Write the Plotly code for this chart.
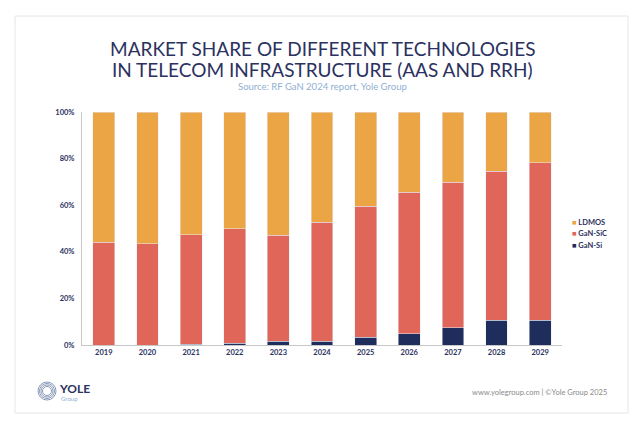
import plotly.graph_objects as go

years = ["2019", "2020", "2021", "2022", "2023", "2024", "2025", "2026", "2027", "2028", "2029"]
gan_si = [0.0, 0.0, 0.3, 0.7, 1.7, 1.7, 3.3, 4.9, 7.4, 10.6, 10.6]
gan_sic = [44.1, 43.4, 47.1, 49.2, 45.5, 50.9, 56.2, 60.7, 62.4, 64.0, 67.7]
ldmos = [55.9, 56.6, 52.6, 50.1, 52.8, 47.4, 40.5, 34.4, 30.2, 25.4, 21.7]
y_ticks = [0, 20, 40, 60, 80, 100]
y_tick_labels = ["0%", "20%", "40%", "60%", "80%", "100%"]

C_SI = "#1f2d5c"
C_SIC = "#e0665a"
C_LD = "#eca545"
NAVY = "#2b3160"
FONT = "Lato"

OFF = 8  # page body margin
W, H = 640 - OFF, 424 - OFF
L, T = 82 - OFF, 112 - OFF
pw, ph = 480, 233
R, B = W - L - pw, H - T - ph


def px(x):
    return (x - OFF - L) / pw


def py(y):
    return (H - B - (y - OFF)) / ph


fig = go.Figure()
fig.add_trace(go.Bar(x=years, y=gan_si, name="GaN-Si", marker_color=C_SI, width=0.5, showlegend=False))
fig.add_trace(go.Bar(x=years, y=gan_sic, name="GaN-SiC", marker_color=C_SIC, width=0.5, showlegend=False))
fig.add_trace(go.Bar(x=years, y=ldmos, name="LDMOS", marker_color=C_LD, width=0.5, showlegend=False))

shapes = [
    dict(type="rect", xref="paper", yref="paper", x0=px(15), x1=px(628), y0=py(413), y1=py(16),
         line=dict(color="#e6e6e6", width=1), fillcolor="rgba(0,0,0,0)", layer="below"),
]
for r in [9, 7.5, 6, 4.5]:
    shapes.append(dict(type="circle", xref="paper", yref="paper",
                       x0=px(47 - r), x1=px(47 + r), y0=py(391 + r), y1=py(391 - r),
                       line=dict(color="#8a9bb8", width=1)))

annotations = [
    dict(text="MARKET SHARE OF DIFFERENT TECHNOLOGIES", x=px(322), y=py(48), xref="paper", yref="paper",
         showarrow=False, font=dict(family=FONT, size=19, color=NAVY), xanchor="center", yanchor="middle"),
    dict(text="IN TELECOM INFRASTRUCTURE (AAS AND RRH)", x=px(322), y=py(69), xref="paper", yref="paper",
         showarrow=False, font=dict(family=FONT, size=19, color=NAVY), xanchor="center", yanchor="middle"),
    dict(text="Source: RF GaN 2024 report, Yole Group", x=px(322), y=py(86), xref="paper", yref="paper",
         showarrow=False, font=dict(family=FONT, size=9.5, color="#8fb0d2"), xanchor="center", yanchor="middle"),
    dict(text="<b>YOLE</b>", x=px(57), y=py(388), xref="paper", yref="paper",
         showarrow=False, font=dict(family=FONT, size=12, color=NAVY), xanchor="left", yanchor="middle"),
    dict(text="Group", x=px(59), y=py(398), xref="paper", yref="paper",
         showarrow=False, font=dict(family=FONT, size=6, color="#8fb0d2"), xanchor="left", yanchor="middle"),
    dict(text="www.yolegroup.com | ©Yole Group 2025", x=px(609), y=py(392), xref="paper", yref="paper",
         showarrow=False, font=dict(family=FONT, size=7.5, color="#8a8a8a"), xanchor="right", yanchor="middle"),
]

legend_items = [("LDMOS", C_LD, 222), ("GaN-SiC", C_SIC, 233.5), ("GaN-Si", C_SI, 245)]
for name, col, yy in legend_items:
    annotations.append(dict(
        text=f"<span style='color:{col}'>■</span> {name}", x=px(570), y=py(yy), xref="paper", yref="paper",
        showarrow=False, font=dict(family=FONT, size=7.5, color=NAVY, weight=700),
        xanchor="left", yanchor="middle"))

fig.update_layout(
    width=W, height=H,
    margin=dict(l=L, r=R, t=T, b=B),
    barmode="stack",
    paper_bgcolor="white", plot_bgcolor="white",
    showlegend=False,
    shapes=shapes,
    annotations=annotations,
    bargap=0.5,
)
fig.update_xaxes(showline=True, linecolor="#c8c8c8", linewidth=1, ticks="", showgrid=False,
                 tickfont=dict(family=FONT, size=7.5, color=NAVY, weight=700), fixedrange=True)
fig.update_yaxes(range=[0, 100], tickvals=y_ticks, ticktext=y_tick_labels, showline=True,
                 linecolor="#c8c8c8", linewidth=1, showgrid=False, zeroline=False, ticks="",
                 tickfont=dict(family=FONT, size=7.5, color=NAVY, weight=700), ticklabelstandoff=5)

fig.write_html("out.html")
